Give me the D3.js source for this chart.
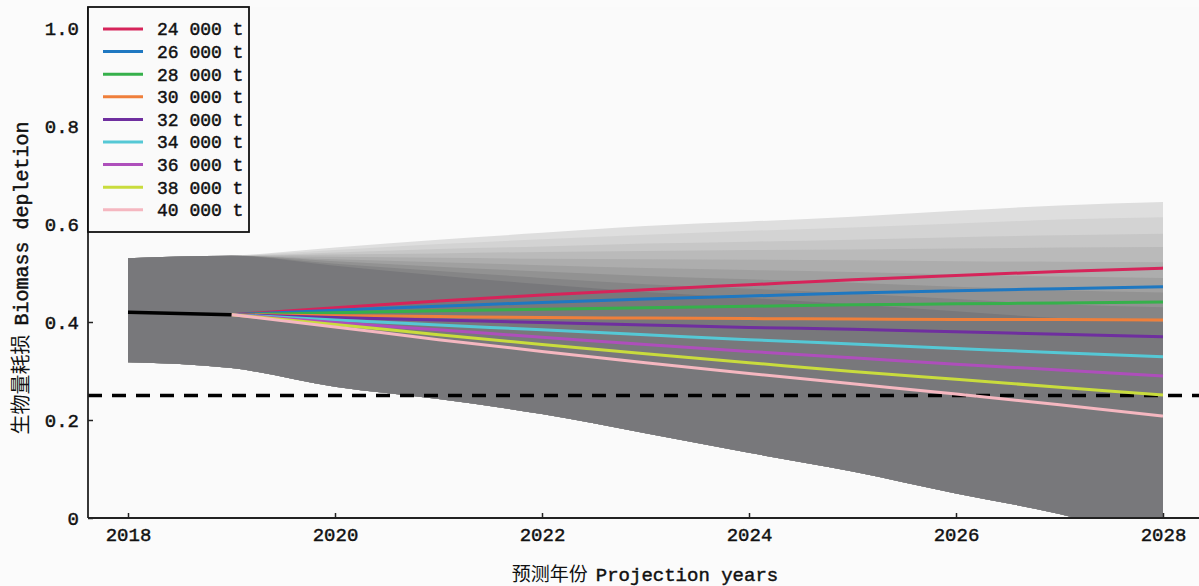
<!DOCTYPE html>
<html>
<head>
<meta charset="utf-8">
<script src="https://cdn.jsdelivr.net/npm/d3@7"></script>
<style>
  html, body { margin: 0; padding: 0; background: #fbfbfb; }
  svg { display: block; }
</style>
</head>
<body>
<svg id="chart" width="1199" height="586"></svg>
<script>
// ---------------- data ----------------
const histYears = [2018, 2019];
const histValues = [0.420, 0.415];

const projYears = [2019, 2020, 2021, 2022, 2023, 2024, 2025, 2026, 2027, 2028];
const catchLabels = ["24 000 t", "26 000 t", "28 000 t", "30 000 t", "32 000 t",
                     "34 000 t", "36 000 t", "38 000 t", "40 000 t"];

const catch24000 = [0.415, 0.429, 0.443, 0.455, 0.466, 0.476, 0.486, 0.495, 0.503, 0.510];
const catch26000 = [0.415, 0.424, 0.432, 0.440, 0.447, 0.453, 0.459, 0.464, 0.468, 0.472];
const catch28000 = [0.415, 0.419, 0.423, 0.426, 0.429, 0.432, 0.435, 0.437, 0.439, 0.441];
const catch30000 = [0.415, 0.413, 0.411, 0.409, 0.408, 0.407, 0.406, 0.405, 0.405, 0.404];
const catch32000 = [0.415, 0.409, 0.404, 0.399, 0.394, 0.389, 0.385, 0.380, 0.375, 0.370];
const catch34000 = [0.415, 0.404, 0.394, 0.384, 0.374, 0.364, 0.355, 0.346, 0.337, 0.329];
const catch36000 = [0.415, 0.399, 0.384, 0.369, 0.354, 0.340, 0.327, 0.314, 0.302, 0.290];
const catch38000 = [0.415, 0.395, 0.374, 0.354, 0.335, 0.317, 0.299, 0.283, 0.267, 0.251];
const catch40000 = [0.415, 0.390, 0.364, 0.340, 0.317, 0.295, 0.274, 0.253, 0.231, 0.208];
const catchSeries = [catch24000, catch26000, catch28000, catch30000, catch32000,
                     catch34000, catch36000, catch38000, catch40000];

// uncertainty band: years 2018..2028
const bandYears = [2018, 2019, 2020, 2021, 2022, 2023, 2024, 2025, 2026, 2027, 2028];
const upper24000 = [0.530, 0.535, 0.552, 0.568, 0.582, 0.596, 0.605, 0.615, 0.627, 0.638, 0.645];
const upper26000 = [0.530, 0.535, 0.547, 0.559, 0.569, 0.578, 0.586, 0.593, 0.601, 0.609, 0.614];
const upper28000 = [0.530, 0.535, 0.542, 0.549, 0.554, 0.560, 0.564, 0.568, 0.573, 0.577, 0.580];
const upper30000 = [0.530, 0.535, 0.538, 0.540, 0.543, 0.545, 0.547, 0.548, 0.550, 0.552, 0.553];
const upper32000 = [0.530, 0.535, 0.533, 0.531, 0.529, 0.528, 0.527, 0.526, 0.524, 0.523, 0.522];
const upper34000 = [0.530, 0.535, 0.528, 0.522, 0.516, 0.510, 0.506, 0.502, 0.497, 0.493, 0.490];
const upper36000 = [0.530, 0.535, 0.524, 0.513, 0.503, 0.494, 0.487, 0.480, 0.472, 0.465, 0.460];
const upper38000 = [0.530, 0.535, 0.519, 0.504, 0.490, 0.477, 0.468, 0.458, 0.447, 0.436, 0.430];
const upper40000 = [0.530, 0.535, 0.515, 0.495, 0.477, 0.461, 0.449, 0.436, 0.422, 0.408, 0.400];
const upperSeries = [upper24000, upper26000, upper28000, upper30000, upper32000,
                     upper34000, upper36000, upper38000, upper40000];
const lowerEnvelope = [0.318, 0.306, 0.268, 0.243, 0.212, 0.173, 0.133, 0.095, 0.050, 0.008, -0.050];

const xTicks = [2018, 2020, 2022, 2024, 2026, 2028];
const yTicks = [0, 0.2, 0.4, 0.6, 0.8, 1.0];
const referenceLevel = 0.25;

// ---------------- styles ----------------
const lineColors = ["#d6245a", "#1f78c1", "#36b04b", "#ef7f3b", "#6f2f9f",
                    "#55c8d5", "#ae4fbb", "#c9dc3d", "#f5b7c0"];
const bandColors = ["#dedede", "#d3d3d3", "#c7c7c7", "#bababa", "#adadad",
                    "#a0a0a0", "#929292", "#858586", "#78787b"];
const monoFont = "'Liberation Mono', 'DejaVu Sans Mono', monospace";
const cjkFont = "'Noto Sans CJK SC', sans-serif";

// ---------------- layout ----------------
const svg = d3.select("#chart");
const padL = 88, padB = 518, padT = 7, padR = 1199;

const x = d3.scaleLinear().domain([2018, 2028]).range([128, 1163]);
const y = d3.scaleLinear().domain([0, 1.0]).range([padB, 28]);

svg.append("defs").append("clipPath").attr("id", "plotclip")
  .append("rect").attr("x", padL).attr("y", padT).attr("width", padR - padL).attr("height", padB - padT);

svg.append("rect").attr("x", padL).attr("y", padT).attr("width", padR - padL).attr("height", padB - padT)
  .attr("fill", "#fafafa");

const plot = svg.append("g").attr("clip-path", "url(#plotclip)");

// bands
const area = d3.area()
  .x((d, i) => x(bandYears[i]))
  .y0((d, i) => y(lowerEnvelope[i]))
  .y1(d => y(d))
  .curve(d3.curveMonotoneX);

upperSeries.forEach((u, k) => {
  plot.append("path").datum(u).attr("d", area).attr("fill", bandColors[k]);
});

// dashed reference line
plot.append("line")
  .attr("x1", padL).attr("x2", padR)
  .attr("y1", y(referenceLevel)).attr("y2", y(referenceLevel))
  .attr("stroke", "#000").attr("stroke-width", 3.5)
  .attr("stroke-dasharray", "14,10");

// projection lines
const line = d3.line()
  .x((d, i) => x(projYears[i]))
  .y(d => y(d))
  .curve(d3.curveMonotoneX);

catchSeries.forEach((s, k) => {
  plot.append("path").datum(s).attr("d", line)
    .attr("fill", "none").attr("stroke", lineColors[k]).attr("stroke-width", 3);
});

// historical line
const hline = d3.line().x((d, i) => x(histYears[i])).y(d => y(d));
plot.append("path").datum(histValues).attr("d", hline)
  .attr("fill", "none").attr("stroke", "#000").attr("stroke-width", 3.5);

// text thickening helper
function thicken(sel) {
  sel.attr("stroke", "#111").attr("stroke-width", 0.45).attr("paint-order", "stroke");
}

// axes
const xAxis = d3.axisBottom(x).tickValues(xTicks).tickFormat(d3.format("d"))
  .tickSizeInner(-5).tickSizeOuter(0).tickPadding(10);
const gx = svg.append("g").attr("transform", `translate(0,${padB})`).call(xAxis);
gx.select(".domain").remove();
gx.selectAll("text").attr("font-family", monoFont).attr("font-size", 19).attr("fill", "#111").call(thicken);
gx.selectAll("line").attr("stroke", "#222").attr("stroke-width", 1.5);

const yAxis = d3.axisLeft(y).tickValues(yTicks)
  .tickFormat(d => d === 0 ? "0" : d3.format(".1f")(d))
  .tickSizeInner(-5).tickSizeOuter(0).tickPadding(9);
const gy = svg.append("g").attr("transform", `translate(${padL},0)`).call(yAxis);
gy.select(".domain").remove();
gy.selectAll("text").attr("font-family", monoFont).attr("font-size", 19).attr("fill", "#111").call(thicken);
gy.selectAll("line").attr("stroke", "#222").attr("stroke-width", 1.5);

svg.append("line").attr("x1", padL).attr("x2", padR).attr("y1", padB).attr("y2", padB)
  .attr("stroke", "#222").attr("stroke-width", 1.8);
svg.append("line").attr("x1", padL).attr("x2", padL).attr("y1", padT).attr("y2", padB)
  .attr("stroke", "#222").attr("stroke-width", 1.8);

// axis titles
const xt = svg.append("text").attr("x", 645).attr("y", 581).attr("text-anchor", "middle")
  .attr("font-size", 19).attr("fill", "#111");
xt.append("tspan").attr("font-family", cjkFont).text("预测年份");
xt.append("tspan").attr("font-family", monoFont).attr("dx", 8).text("Projection years").call(thicken);

const yt = svg.append("text").attr("transform", "translate(28,278) rotate(-90)")
  .attr("text-anchor", "middle").attr("fill", "#111");
yt.append("tspan").attr("font-family", cjkFont).attr("font-size", 20).text("生物量耗损");
yt.append("tspan").attr("font-family", monoFont).attr("font-size", 20).attr("dx", 9)
  .text("Biomass depletion").call(thicken);

// legend
const lg = svg.append("g");
lg.append("rect").attr("x", padL).attr("y", padT).attr("width", 161).attr("height", 225)
  .attr("fill", "#fafafa").attr("stroke", "#111").attr("stroke-width", 1.8);
catchLabels.forEach((lab, k) => {
  const ly = 29 + k * 22.6;
  lg.append("line").attr("x1", 103).attr("x2", 143).attr("y1", ly).attr("y2", ly)
    .attr("stroke", lineColors[k]).attr("stroke-width", 3);
  lg.append("text").attr("x", 157).attr("y", ly).attr("dy", "0.35em")
    .attr("font-family", monoFont).attr("font-size", 18).attr("fill", "#111").text(lab).call(thicken);
});
</script>
</body>
</html>
